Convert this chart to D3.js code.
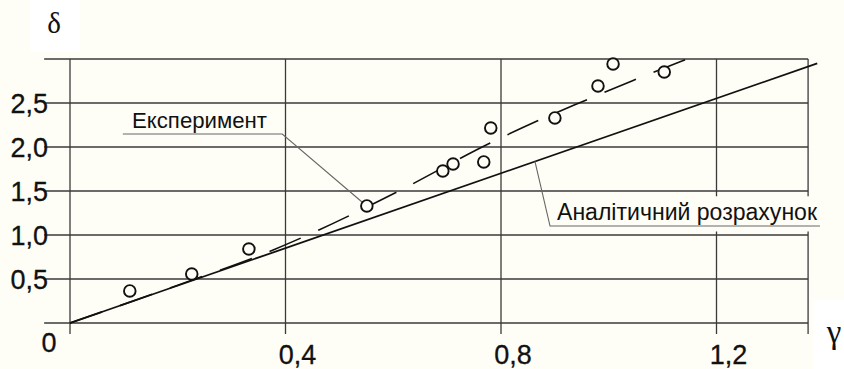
<!DOCTYPE html>
<html><head><meta charset="utf-8">
<script src="https://cdn.jsdelivr.net/npm/d3@7"></script>
<style>html,body{margin:0;padding:0;background:#fefef6;} svg{display:block;}</style>
</head><body>
<svg id="c" width="844" height="369"></svg>
<script>
// ---- data ----
const xGrid = [0, 0.4, 0.8, 1.2, 1.37];
const xTicks = [0.4, 0.8, 1.2];
const yGrid = [0, 0.5, 1, 1.5, 2, 2.5, 3];
const yTicks = [0.5, 1, 1.5, 2, 2.5];
const expX = [0.111, 0.226, 0.332, 0.551, 0.692, 0.711, 0.768, 0.781, 0.900, 0.980, 1.008, 1.103];
const expY = [0.364, 0.557, 0.841, 1.330, 1.727, 1.807, 1.830, 2.216, 2.330, 2.693, 2.943, 2.852];
const fitX = [0, 0.2, 0.377, 0.462, 0.607, 0.780, 0.867, 0.954, 1.043, 1.145];
const fitY = [0, 0.43, 0.83, 1.057, 1.489, 2.045, 2.295, 2.523, 2.750, 3.0];
const analyticX = [0, 1.387];
const analyticY = [0, 2.95];
const labelExp = "Експеримент";
const labelAn = "Аналітичний розрахунок";
const axisX = "γ", axisY = "δ", originLabel = "0";
// annotation anchor points (data coordinates)
const leaderExp = [[0.098, 2.148], [0.394, 2.148], [0.542, 1.375]];
const leaderAn = [[0.863, 1.838], [0.891, 1.102], [1.392, 1.102]];

const W = 844, H = 369, BG = "#fefef6";
const svg = d3.select("#c");
svg.append("rect").attr("width", W).attr("height", H).attr("fill", BG);

const x = d3.scaleLinear().domain([0, 1.2]).range([70, 716.5]);
const y = d3.scaleLinear().domain([0, 3]).range([323, 59]);
const fmt = d3.formatLocale({decimal: ",", thousands: " ", grouping: [3], currency: ["", ""]}).format(".1f");

// white patches behind axis symbols
svg.append("rect").attr("x", 30).attr("y", 0).attr("width", 50).attr("height", 52).attr("fill", "#ffffff");
svg.append("rect").attr("x", 813).attr("y", 300).attr("width", 31).attr("height", 69).attr("fill", "#ffffff");

const grid = svg.append("g").attr("stroke", "#3a3a3a").attr("stroke-width", 1.3);
grid.selectAll("line.v").data(xGrid).join("line")
  .attr("x1", d => x(d)).attr("x2", d => x(d))
  .attr("y1", y(3)).attr("y2", y(-0.125));
grid.selectAll("line.h").data(yGrid).join("line")
  .attr("y1", d => y(d)).attr("y2", d => y(d))
  .attr("x1", x(-0.048)).attr("x2", x(1.37));

// gap in grid behind analytic label
svg.append("rect").attr("x", x(0.88)).attr("y", y(1.44)).attr("width", x(1.41) - x(0.88))
  .attr("height", y(1.04) - y(1.44)).attr("fill", BG);

// tick labels
const tf = "'Liberation Sans', Arial, sans-serif";
const tick = sel => sel.attr("font-family", tf).attr("font-size", 27).attr("fill", "#111")
  .attr("stroke", "#111").attr("stroke-width", 0.3);
svg.selectAll("text.yt").data(yTicks).join("text")
  .attr("x", 48).attr("y", d => y(d) + 10).attr("text-anchor", "end")
  .call(tick).text(d => fmt(d));
svg.selectAll("text.xt").data(xTicks).join("text")
  .attr("x", d => x(d) + 12).attr("y", 364).attr("text-anchor", "middle")
  .call(tick).text(d => fmt(d));
svg.append("text").attr("x", 49).attr("y", 352).attr("text-anchor", "middle")
  .call(tick).text(originLabel);

const sf = "'Liberation Serif', 'DejaVu Serif', serif";
svg.append("text").attr("x", 54).attr("y", 33).attr("text-anchor", "middle")
  .attr("font-family", sf).attr("font-size", 29).attr("fill", "#111").text(axisY);
svg.append("text").attr("x", 834).attr("y", 343).attr("text-anchor", "middle")
  .attr("font-family", sf).attr("font-size", 33).attr("fill", "#111").text(axisX);

// analytic line
const line = d3.line().x(d => x(d[0])).y(d => y(d[1]));
svg.append("path").datum(d3.zip(analyticX, analyticY)).attr("d", line)
  .attr("fill", "none").attr("stroke", "#111").attr("stroke-width", 1.8);

// experiment fit (dashed)
svg.append("path").datum(d3.zip(fitX, fitY)).attr("d", d3.line().x(d => x(d[0])).y(d => y(d[1])).curve(d3.curveMonotoneX))
  .attr("fill", "none").attr("stroke", "#111").attr("stroke-width", 1.6)
  .attr("stroke-dasharray", "34,19").attr("stroke-dashoffset", 0);

// leader lines
svg.append("path").datum(leaderExp).attr("d", line).attr("fill", "none")
  .attr("stroke", "#666").attr("stroke-width", 1.1);
svg.append("path").datum(leaderAn).attr("d", line).attr("fill", "none")
  .attr("stroke", "#666").attr("stroke-width", 1.1);

// points
svg.selectAll("circle.p").data(d3.zip(expX, expY)).join("circle")
  .attr("cx", d => x(d[0])).attr("cy", d => y(d[1])).attr("r", 5.8)
  .attr("fill", BG).attr("stroke", "#111").attr("stroke-width", 1.9);

// labels
svg.append("text").attr("x", x(0.1151)).attr("y", y(2.216))
  .attr("font-family", tf).attr("font-size", 22).attr("fill", "#111")
  .attr("textLength", 135).attr("lengthAdjust", "spacingAndGlyphs").text(labelExp);
svg.append("text").attr("x", x(0.904)).attr("y", y(1.170))
  .attr("font-family", tf).attr("font-size", 23).attr("fill", "#111")
  .attr("textLength", 260).attr("lengthAdjust", "spacingAndGlyphs").text(labelAn);
</script>
</body></html>
